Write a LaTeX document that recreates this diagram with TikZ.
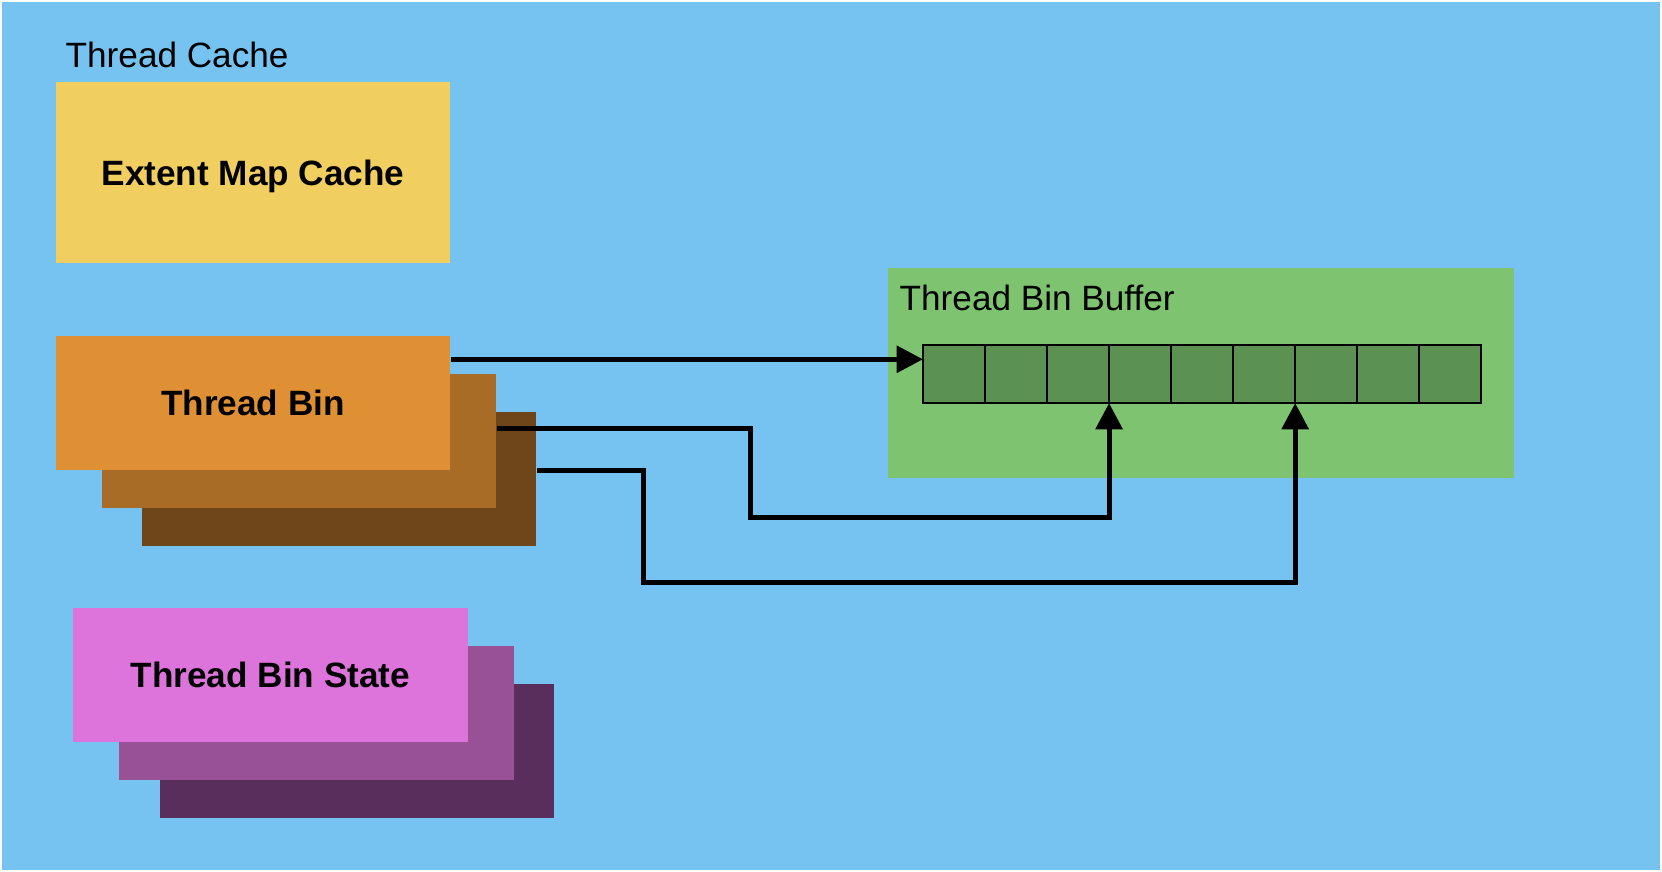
\documentclass[tikz,border=0pt]{standalone}
\usepackage{fontspec}
\setmainfont{Liberation Sans}
\usepackage{xcolor}
\usetikzlibrary{arrows.meta,positioning,calc}
\definecolor{sky}{HTML}{76C2F0}
\definecolor{extyellow}{HTML}{F0CE5F}
\definecolor{binorange}{HTML}{E09034}
\definecolor{binbrown}{HTML}{A86C27}
\definecolor{bindark}{HTML}{6F4619}
\definecolor{statepink}{HTML}{DD74DB}
\definecolor{statepurple}{HTML}{985195}
\definecolor{statedark}{HTML}{5A2E5C}
\definecolor{bufgreen}{HTML}{7DC370}
\definecolor{cellgreen}{HTML}{5B9252}
\begin{document}
\begin{tikzpicture}[x=0.01cm, y=-0.01cm, box/.style={rectangle, inner sep=0pt, minimum width=3.94cm, minimum height=1.34cm, text depth=0pt, font=\bfseries}, cell/.style={rectangle, draw, line width=0.6pt, fill=cellgreen, inner sep=0pt, outer sep=0pt, minimum width=0.62cm, minimum height=0.58cm}, link/.style={-{Triangle[length=7.5pt,width=7.5pt]}, line width=1.45pt}, label text/.style={anchor=base west, inner sep=0pt}]
\useasboundingbox (0,0) rectangle (1662,872);
\fill[white] (0,0) rectangle (1662,872);
\fill[sky] (2,2) rectangle (1660,870);
\node[label text] (cachelabel) at (65,67) {Thread Cache};
\node[box, fill=extyellow, minimum height=1.81cm] (extent) at (253,172.5) {Extent Map Cache};
\node[box, fill=bindark] (bin3) at (339,479) {};
\node[box, fill=binbrown] (bin2) at (299,441) {};
\node[box, fill=binorange] (bin1) at (253,403) {Thread Bin};
\node[box, fill=statedark] (state3) at (357,751) {};
\node[box, fill=statepurple] (state2) at (316.5,713) {};
\node[box, fill=statepink] (state1) at (270.5,675) {Thread Bin State};
\node[rectangle, fill=bufgreen, inner sep=0pt, minimum width=6.26cm, minimum height=2.1cm] (buffer) at (1201,373) {};
\node[label text] (bufferlabel) at (899,310) {Thread Bin Buffer};
\node[cell] (cell1) at (954,374) {};
\foreach \i [count=\j from 2] in {1,...,8}
  \node[cell, right=0pt of cell\i] (cell\j) {};
\coordinate (in1) at ([yshift=-0.24cm]bin1.north east);
\coordinate (in2) at ([yshift=-0.55cm]bin2.north east);
\coordinate (in3) at ([yshift=-0.59cm]bin3.north east);
\draw[link] (in1) -- (in1 -| cell1.west);
\draw[link] (in2) -- ++(254,0) -- ++(0,89) -| (cell3.south east);
\draw[link] (in3) -- ++(107,0) -- ++(0,112) -| (cell6.south east);
\end{tikzpicture}
\end{document}
